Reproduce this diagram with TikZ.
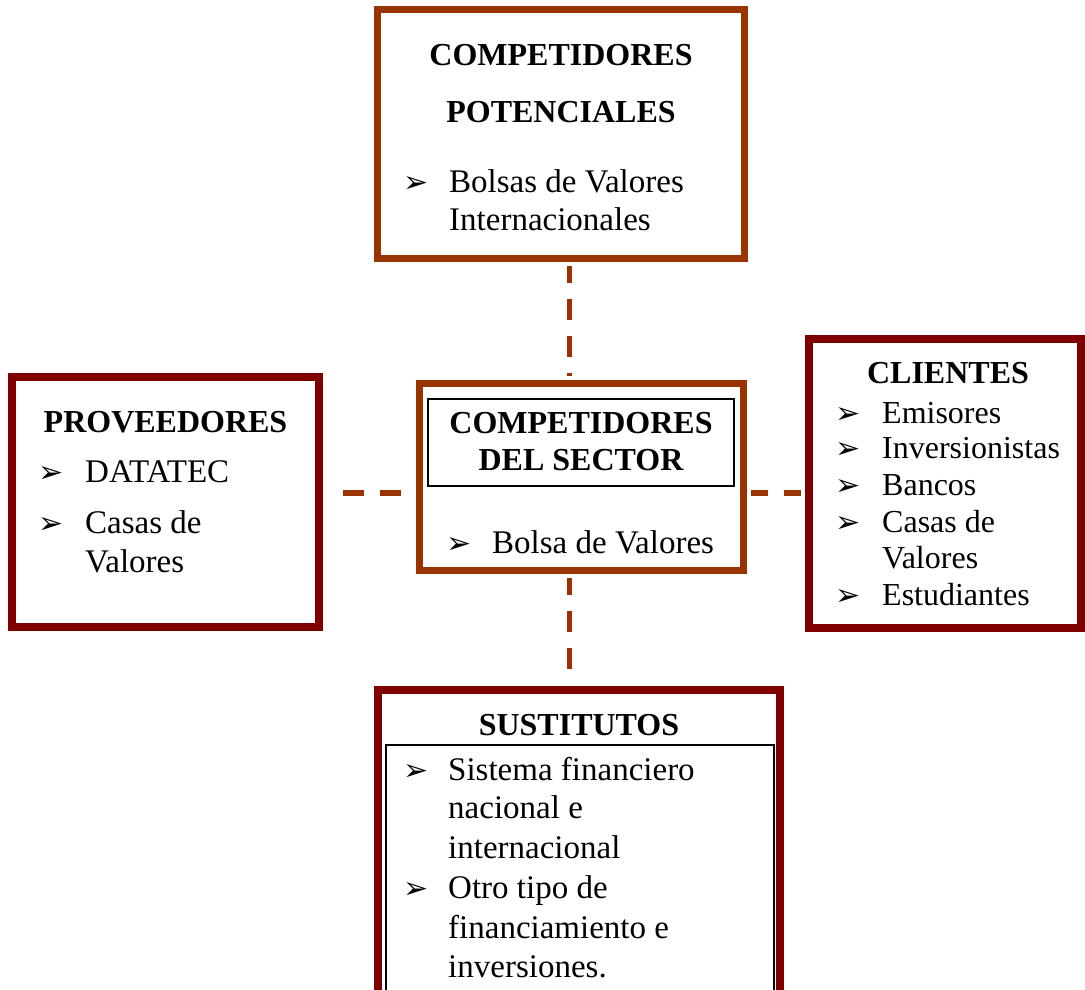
\documentclass[tikz,border=0pt]{standalone}
\usepackage{fontspec}
\setmainfont{Liberation Serif}
\newfontfamily\arrowfont{DejaVu Sans}
\usetikzlibrary{positioning}
\definecolor{rustframe}{HTML}{993300}
\definecolor{maroonframe}{HTML}{800000}

\begin{document}
\begin{tikzpicture}[
  x=1pt,
  y=-1pt,
  line join=miter,
  rustbox/.style={draw=rustframe,line width=7pt,fill=white,inner sep=0pt},
  maroonbox/.style={draw=maroonframe,line width=8pt,fill=white,inner sep=0pt},
  innerbox/.style={draw=black,line width=2pt,inner sep=0pt},
  head/.style={font=\bfseries\fontsize{32}{38}\selectfont,anchor=base,inner sep=0pt},
  entry/.style={font=\fontsize{33}{39}\selectfont,anchor=base west,inner sep=0pt},
  cliententry/.style={entry,font=\fontsize{32}{37}\selectfont},
  arrowbullet/.style={font=\arrowfont\fontsize{30}{30}\selectfont,anchor=base west,inner sep=0pt},
  link/.style={draw=rustframe,line width=5.5pt,dash pattern=on 21pt off 16pt,
    dash phase=4pt,shorten <=4pt,shorten >=4pt}
]
  \newcommand{\itemline}[6][entry]{%
    \node[arrowbullet] (#2b) at (#3,#5) {➢};
    \node[#1] (#2) at (#4,#5) {#6};
  }
  \useasboundingbox (0,0) rectangle (1085,989);

  % Frames of the five forces.
  \node[rustbox,minimum width=367pt,minimum height=249pt] (pot) at (561,134) {};
  \node[maroonbox,minimum width=307pt,minimum height=250pt] (prov) at (165.5,502) {};
  \node[rustbox,minimum width=324pt,minimum height=187pt] (sect) at (581.5,477) {};
  \node[innerbox,minimum width=306pt,minimum height=87pt] (sectIn) at (581,442.5) {};
  \node[maroonbox,minimum width=272pt,minimum height=289pt] (cli) at (945,483.5) {};
  \node[maroonbox,minimum width=402pt,minimum height=310pt] (sust) at (579,845) {};
  \node[innerbox,minimum width=388pt,minimum height=250pt] (sustIn) at (580,870) {};

  % Dashed links meet the sector box off its centre lines.
  \coordinate (vx) at (569.5,0);
  \coordinate (hy) at (0,493);
  \draw[link] (pot.south -| vx) -- (sect.north -| vx);
  \draw[link] (sect.south -| vx) -- (sust.north -| vx);
  \draw[link,dash phase=21pt] (prov.east |- hy) -- (sect.west |- hy);
  \draw[link] (sect.east |- hy) -- (cli.west |- hy);

  % Competidores potenciales.
  \node[head] (potT1) at (561,65) {COMPETIDORES};
  \node[head] (potT2) at (561,122) {POTENCIALES};
  \itemline{potA}{403}{449}{192}{Bolsas de Valores}
  \node[entry] (potA2) at (449,230) {Internacionales};

  % Proveedores.
  \node[head] (provT) at (165.5,432) {PROVEEDORES};
  \itemline{provA}{38}{85}{482}{DATATEC}
  \itemline{provB}{38}{85}{533}{Casas de}
  \node[entry] (provB2) at (85,572) {Valores};

  % Competidores del sector.
  \node[head] (sectT1) at (581,433) {COMPETIDORES};
  \node[head] (sectT2) at (581,470) {DEL SECTOR};
  \itemline{sectA}{446}{492}{553}{Bolsa de Valores}

  % Clientes.
  \node[head] (cliT) at (948,383) {CLIENTES};
  \itemline[cliententry]{cliA}{835}{882}{423}{Emisores}
  \itemline[cliententry]{cliB}{835}{882}{458}{Inversionistas}
  \itemline[cliententry]{cliC}{835}{882}{495}{Bancos}
  \itemline[cliententry]{cliD}{835}{882}{532}{Casas de}
  \node[cliententry] (cliD2) at (882,568) {Valores};
  \itemline[cliententry]{cliE}{835}{882}{605}{Estudiantes}

  % Sustitutos.
  \node[head] (sustT) at (579,735) {SUSTITUTOS};
  \itemline{sustA}{403}{448}{780}{Sistema financiero}
  \node[entry] (sustA2) at (448,818) {nacional e};
  \node[entry] (sustA3) at (448,858) {internacional};
  \itemline{sustB}{403}{448}{898}{Otro tipo de}
  \node[entry] (sustB2) at (448,938) {financiamiento e};
  \node[entry] (sustB3) at (448,977) {inversiones.};
\end{tikzpicture}
\end{document}
